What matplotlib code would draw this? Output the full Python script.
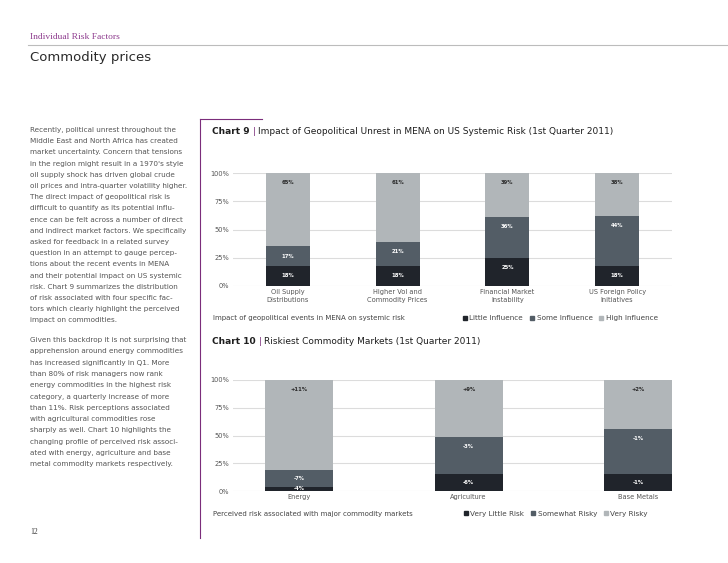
import matplotlib
matplotlib.use("Agg")
import matplotlib.pyplot as plt
from matplotlib.lines import Line2D
import numpy as np

W, H = 728, 563

# chart 9 data
chart9_categories = ["Oil Supply\nDistributions", "Higher Vol and\nCommodity Prices",
                     "Financial Market\nInstability", "US Foreign Policy\nInitiatives"]
chart9_little = [18, 18, 25, 18]
chart9_some = [17, 21, 36, 44]
chart9_high = [65, 61, 39, 38]
chart9_series = ["Little Influence", "Some Influence", "High Influence"]

# chart 10 data (bar heights) and the quarterly changes printed on them
chart10_categories = ["Energy", "Agriculture", "Base Metals"]
chart10_very_little = [4, 15, 15]
chart10_somewhat = [15, 34, 41]
chart10_very = [81, 51, 44]
chart10_chg_very_little = ["-4%", "-6%", "-1%"]
chart10_chg_somewhat = ["-7%", "-3%", "-1%"]
chart10_chg_very = ["+11%", "+9%", "+2%"]
chart10_series = ["Very Little Risk", "Somewhat Risky", "Very Risky"]

yticks = [0, 25, 50, 75, 100]

para1 = [
    "Recently, political unrest throughout the",
    "Middle East and North Africa has created",
    "market uncertainty. Concern that tensions",
    "in the region might result in a 1970's style",
    "oil supply shock has driven global crude",
    "oil prices and intra-quarter volatility higher.",
    "The direct impact of geopolitical risk is",
    "difficult to quantify as its potential influ-",
    "ence can be felt across a number of direct",
    "and indirect market factors. We specifically",
    "asked for feedback in a related survey",
    "question in an attempt to gauge percep-",
    "tions about the recent events in MENA",
    "and their potential impact on US systemic",
    "risk. Chart 9 summarizes the distribution",
    "of risk associated with four specific fac-",
    "tors which clearly highlight the perceived",
    "impact on commodities.",
]
para2 = [
    "Given this backdrop it is not surprising that",
    "apprehension around energy commodities",
    "has increased significantly in Q1. More",
    "than 80% of risk managers now rank",
    "energy commodities in the highest risk",
    "category, a quarterly increase of more",
    "than 11%. Risk perceptions associated",
    "with agricultural commodities rose",
    "sharply as well. Chart 10 highlights the",
    "changing profile of perceived risk associ-",
    "ated with energy, agriculture and base",
    "metal commodity markets respectively.",
]

COLORS = ["#20242b", "#535d66", "#b1b6b9"]
LABEL_COLORS = ["white", "white", "#2a2a2a"]
PURPLE = "#7b2d7b"
TEXT = "#555555"

plt.rcParams['font.family'] = ['DejaVu Sans']


def fx(x):
    return x / W


def fy(y):
    return 1 - y / H


def stacked_chart(ax, cats, layers, labels, width, xlim):
    x = np.arange(len(cats))
    bottom = np.zeros(len(cats))
    for vals, labs, col, tcol in zip(layers, labels, COLORS, LABEL_COLORS):
        vals = np.array(vals, dtype=float)
        ax.bar(x, vals, width, bottom=bottom, color=col, zorder=2)
        top = bottom + vals
        for xi, b, t, lab in zip(x, bottom, top, labs):
            yy = max(t - 8.5, (b + t) / 2)
            ax.text(xi, yy, lab, ha='center', va='center', fontsize=3.8,
                    color=tcol, fontweight='bold', zorder=3)
        bottom = top
    ax.set_xlim(*xlim)
    ax.set_ylim(0, 100)
    ax.set_yticks(yticks)
    ax.set_yticklabels([f"{v}%" for v in yticks])
    ax.set_xticks(x)
    ax.set_xticklabels(cats, linespacing=1.3)
    ax.tick_params(axis='both', length=0, labelsize=4.8, labelcolor=TEXT)
    ax.tick_params(axis='y', pad=3)
    ax.tick_params(axis='x', pad=2.5)
    ax.grid(axis='y', color='#dcdcdc', linewidth=0.8, zorder=0)
    for s in ax.spines.values():
        s.set_visible(False)


def chart_title(fig, ax, y, number, rest):
    t1 = fig.text(fx(212), fy(y), number, fontsize=6.5, fontweight='bold',
                  color='#1e1e1e', va='center')
    t2 = ax.annotate(" | ", xy=(1, 0), xycoords=t1, va='bottom', fontsize=6.5,
                     color=PURPLE)
    ax.annotate(rest, xy=(1, 0), xycoords=t2, va='bottom', fontsize=6.5,
                color='#1e1e1e')


def legend(fig, names, x_right, y):
    handles = [Line2D([], [], marker='s', linestyle='none', markersize=3.2,
                      markerfacecolor=c, markeredgecolor=c) for c in COLORS]
    fig.legend(handles, names, loc='center right', bbox_to_anchor=(fx(x_right), fy(y)),
               ncol=3, frameon=False, fontsize=5.2, labelcolor='#444444',
               handlelength=0.6, handletextpad=0.35, columnspacing=0.9,
               borderpad=0, borderaxespad=0)


fig = plt.figure(figsize=(W / 100, H / 100), dpi=100)

# page header
fig.text(fx(30), fy(37), "Individual Risk Factors", family='Liberation Serif',
         fontsize=6.8, color='#8e3b8e', va='center')
fig.add_artist(Line2D([fx(28), fx(728)], [fy(45), fy(45)], color='#bcbcbc', linewidth=0.8))
fig.text(fx(30), fy(57), "Commodity prices", fontsize=9.5, color='#2a2a2a', va='center')

# left text column
for i, line in enumerate(para1):
    fig.text(fx(30), fy(130 + i * 11.2), line, fontsize=5.2, color=TEXT, va='center')
for i, line in enumerate(para2):
    fig.text(fx(30), fy(340 + i * 11.3), line, fontsize=5.2, color=TEXT, va='center')

fig.text(fx(30), fy(532), "12", family='Liberation Serif', fontsize=5.5,
         color='#333333', va='center')

# purple separator
fig.add_artist(Line2D([fx(200), fx(200)], [fy(119), fy(538)], color=PURPLE, linewidth=0.8))
fig.add_artist(Line2D([fx(200), fx(262)], [fy(119), fy(119)], color=PURPLE, linewidth=0.8))

# chart 9
ax9 = fig.add_axes([fx(233), fy(286), 439 / W, 113 / H])
stacked_chart(ax9, chart9_categories, [chart9_little, chart9_some, chart9_high],
              [[f"{v}%" for v in chart9_little], [f"{v}%" for v in chart9_some],
               [f"{v}%" for v in chart9_high]],
              0.4, (-0.5, 3.5))
chart_title(fig, ax9, 131, "Chart 9",
            "Impact of Geopolitical Unrest in MENA on US Systemic Risk (1st Quarter 2011)")
fig.text(fx(213), fy(318), "Impact of geopolitical events in MENA on systemic risk",
         fontsize=5.0, color='#444444', va='center')
legend(fig, chart9_series, 658, 318)

# chart 10
ax10 = fig.add_axes([fx(233), fy(491), 439 / W, 111 / H])
stacked_chart(ax10, chart10_categories, [chart10_very_little, chart10_somewhat, chart10_very],
              [chart10_chg_very_little, chart10_chg_somewhat, chart10_chg_very],
              0.4, (-0.39, 2.2))
chart_title(fig, ax10, 341, "Chart 10", "Riskiest Commodity Markets (1st Quarter 2011)")
fig.text(fx(213), fy(514), "Perceived risk associated with major commodity markets",
         fontsize=5.0, color='#444444', va='center')
legend(fig, chart10_series, 648, 514)

fig.savefig("out.png", dpi=100)
